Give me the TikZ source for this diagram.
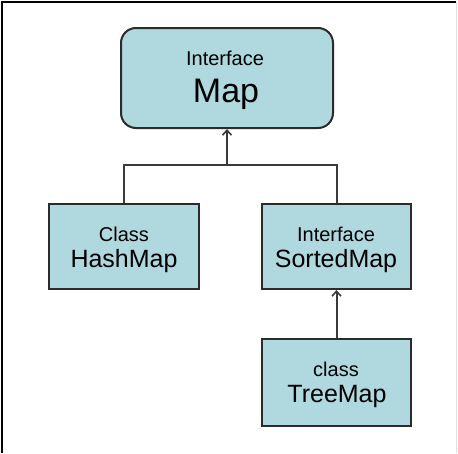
\documentclass[tikz,border=0pt]{standalone}
\usepackage{fontspec}
\setmainfont{Liberation Sans}
\usetikzlibrary{arrows.meta}
\definecolor{boxfill}{HTML}{B0D8DF}
\definecolor{boxline}{HTML}{2B2B2B}
\definecolor{conn}{HTML}{3A3A3A}
\begin{document}
\begin{tikzpicture}[x=1pt,y=-1pt,
  box/.style={draw=boxline,fill=boxfill,line width=2pt,inner sep=0pt},
  small/.style={anchor=base,inner sep=0pt,font=\fontsize{20}{22}\selectfont},
  big/.style={anchor=base,inner sep=0pt,font=\fontsize{25}{28}\selectfont},
  conline/.style={draw=conn,line width=2pt},
  inh/.style={conline,-{Straight Barb[length=5pt,width=9pt,line width=1.6pt]}}]
\useasboundingbox (0,0) rectangle (458,453);
\fill[white] (0,0) rectangle (458,453);
\draw[black,line width=2pt] (2,453) -- (2,2) -- (456,2);
\draw[gray!25,line width=1pt] (456,2) -- (456,453);
% boxes
\node[box,rounded corners=15pt,minimum width=212pt,minimum height=100pt] (map) at (227,78) {};
\node[box,minimum width=150pt,minimum height=85pt] (hash) at (124,246.5) {};
\node[box,minimum width=149pt,minimum height=85pt] (sorted) at (336.5,246.5) {};
\node[box,minimum width=149pt,minimum height=87pt] (tree) at (336.5,382.5) {};
% labels
\node[small] (mapA) at (225,65) {Interface};
\node[anchor=base,inner sep=0pt,font=\fontsize{34}{36}\selectfont] (mapB) at (226,102) {Map};
\node[small] (hashA) at (124,241) {Class};
\node[big] (hashB) at (124,267) {HashMap};
\node[small] (sortedA) at (336,241) {Interface};
\node[big] (sortedB) at (336,267) {SortedMap};
\node[small] (treeA) at (336,376) {class};
\node[big] (treeB) at (337,402) {TreeMap};
% connectors
\coordinate (junc) at (227,165);
\draw[conline] (hash.north) |- (junc) -| (sorted.north);
\draw[inh] (junc) -- (map.south);
\draw[inh] (tree.north) -- (sorted.south);
\end{tikzpicture}
\end{document}
